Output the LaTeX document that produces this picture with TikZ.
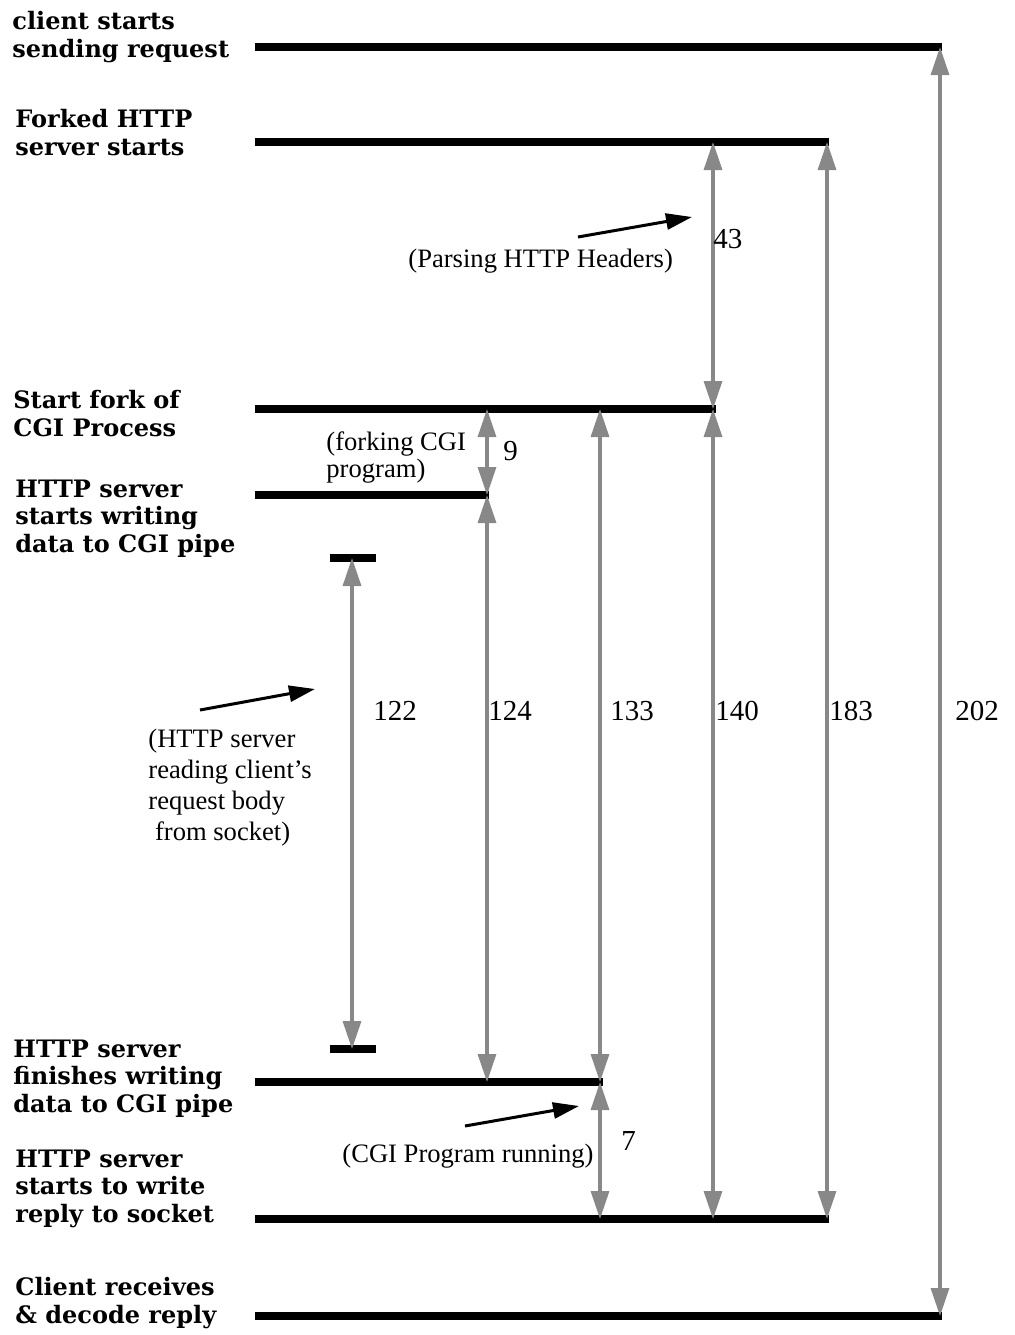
\documentclass[tikz,border=0pt]{standalone}
\usepackage{fontspec}
\setmainfont{Liberation Serif}
\newfontfamily\labfont{DejaVu Serif}
\usetikzlibrary{arrows.meta}
\definecolor{arrgray}{RGB}{136,136,136}
\begin{document}
\begin{tikzpicture}[x=0.5pt,y=-0.5pt,
  tl/.style={line width=3.8pt, black},
  dim/.style={arrgray, line width=1.6pt, {Triangle[length=14pt,width=9pt]}-{Triangle[length=14pt,width=9pt]}},
  note/.style={black, line width=1.5pt, -{Triangle[length=13pt,width=8pt]}},
  lab/.style={anchor=base west, inner sep=0pt, align=left, font=\labfont\bfseries\fontsize{12}{13.75}\selectfont},
  ann/.style={anchor=base west, inner sep=0pt, align=left, font=\fontsize{13.3}{14}\selectfont},
  num/.style={anchor=base west, inner sep=0pt, font=\fontsize{14.5}{16}\selectfont}]
\useasboundingbox (0,0) rectangle (1015,1335);
% timeline bars
\coordinate (r1a) at (255,47);   \coordinate (r1b) at (942,47);
\coordinate (r2a) at (255,142);  \coordinate (r2b) at (829,142);
\coordinate (r3a) at (255,409);  \coordinate (r3b) at (716,409);
\coordinate (r4a) at (255,495);  \coordinate (r4b) at (489,495);
\coordinate (r5a) at (330,558);  \coordinate (r5b) at (376,558);
\coordinate (r6a) at (330,1049); \coordinate (r6b) at (376,1049);
\coordinate (r7a) at (255,1082); \coordinate (r7b) at (603,1082);
\coordinate (r8a) at (255,1219); \coordinate (r8b) at (829,1219);
\coordinate (r9a) at (255,1316); \coordinate (r9b) at (942,1316);
\foreach \i in {1,...,9} \draw[tl] (r\i a) -- (r\i b);
% dimension end points
\coordinate (d202t) at (940,47);  \coordinate (d202b) at (940,1316);
\coordinate (d183t) at (827,142); \coordinate (d183b) at (827,1219);
\coordinate (d43t) at (713,142);  \coordinate (d43b) at (713,409);
\coordinate (d140t) at (713,409); \coordinate (d140b) at (713,1219);
\coordinate (d133t) at (600,409); \coordinate (d133b) at (600,1082);
\coordinate (d7t) at (600,1082);  \coordinate (d7b) at (600,1219);
\coordinate (d9t) at (487,409);   \coordinate (d9b) at (487,495);
\coordinate (d124t) at (487,495); \coordinate (d124b) at (487,1082);
\coordinate (d122t) at (352,558); \coordinate (d122b) at (352,1049);
\foreach \n in {202,183,43,140,133,7,9,124,122} \draw[dim] (d\n t) -- (d\n b);
% left labels (anchored at the baseline of their last line)
\node[lab] (lab1) at (12,57) {client starts\\sending request};
\node[lab] (lab2) at (15,155) {Forked HTTP\\server starts};
\node[lab] (lab3) at (13,436) {Start fork of\\CGI Process};
\node[lab] (lab4) at (15,552) {HTTP server\\starts writing\\data to CGI pipe};
\node[lab] (lab5) at (13,1112) {HTTP server\\finishes writing\\data to CGI pipe};
\node[lab] (lab6) at (15,1222) {HTTP server\\starts to write\\reply to socket};
\node[lab] (lab7) at (15,1323) {Client receives\\\& decode reply};
% numbers
\node[num] (n43) at (713,248) {43};
\node[num] (n9) at (503,460) {9};
\node[num] (n122) at (373,720) {122};
\node[num] (n124) at (488,720) {124};
\node[num] (n133) at (610,720) {133};
\node[num] (n140) at (715,720) {140};
\node[num] (n183) at (829,720) {183};
\node[num] (n202) at (955,720) {202};
\node[num] (n7) at (621,1150) {7};
% annotations
\node[ann] (a1) at (408,267) {(Parsing HTTP Headers)};
\node[ann, font=\fontsize{13.3}{13.5}\selectfont] (a2) at (326,477) {(forking CGI\\program)};
\node[ann, font=\fontsize{13.3}{15.5}\selectfont] (a3) at (148,840) {(HTTP server\\reading client’s\\request body\\\ from socket)};
\node[ann] (a4) at (342,1162) {(CGI Program running)};
\coordinate (p1s) at (578,237); \coordinate (p1e) at (692,217);
\coordinate (p3s) at (200,710); \coordinate (p3e) at (315,689);
\coordinate (p4s) at (465,1126); \coordinate (p4e) at (579,1106);
\draw[note] (p1s) -- (p1e);
\draw[note] (p3s) -- (p3e);
\draw[note] (p4s) -- (p4e);
\end{tikzpicture}
\end{document}
